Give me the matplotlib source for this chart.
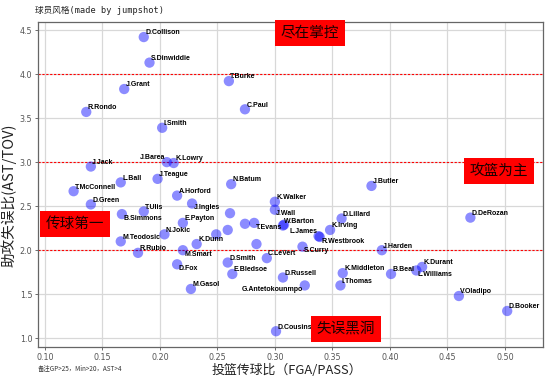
import matplotlib
matplotlib.use("Agg")
import matplotlib.pyplot as plt

# player name, FGA/PASS, AST/TOV
names = ["D.Collison", "S.Dinwiddie", "J.Grant", "R.Rondo", "I.Smith", "T.Burke", "C.Paul",
         "J.Jack", "J.Barea", "K.Lowry", "L.Ball", "J.Teague", "N.Batum", "T.McConnell",
         "D.Green", "A.Horford", "J.Ingles", "T.Ulis", "B.Simmons", "E.Payton", "N.Jokic",
         "M.Teodosic", "R.Rubio", "M.Smart", "K.Dunn", "D.Fox", "M.Gasol", "D.Smith",
         "E.Bledsoe", "T.Evans", "K.Walker", "J.Wall", "W.Barton", "L.James", "R.Westbrook",
         "D.Lillard", "K.Irving", "S.Curry", "C.LeVert", "J.Butler", "J.Harden", "D.DeRozan",
         "K.Middleton", "B.Beal", "K.Durant", "L.Williams", "I.Thomas", "D.Russell",
         "G.Antetokounmpo", "V.Oladipo", "D.Booker", "D.Cousins"]
fga_pass = [0.186, 0.191, 0.169, 0.136, 0.202, 0.260, 0.274,
            0.140, 0.206, 0.212, 0.166, 0.198, 0.262, 0.125,
            0.140, 0.215, 0.228, 0.186, 0.167, 0.220, 0.204,
            0.166, 0.181, 0.220, 0.232, 0.215, 0.227, 0.259,
            0.263, 0.282, 0.300, 0.300, 0.307, 0.338, 0.339,
            0.358, 0.348, 0.324, 0.293, 0.384, 0.393, 0.470,
            0.359, 0.401, 0.428, 0.423, 0.357, 0.307,
            0.326, 0.460, 0.502, 0.301]
ast_tov = [4.42, 4.13, 3.83, 3.57, 3.39, 3.92, 3.60,
           2.95, 3.00, 2.99, 2.77, 2.81, 2.75, 2.67,
           2.52, 2.62, 2.53, 2.44, 2.41, 2.31, 2.18,
           2.10, 1.97, 2.00, 2.07, 1.84, 1.56, 1.86,
           1.73, 2.31, 2.55, 2.46, 2.28, 2.16, 2.15,
           2.36, 2.23, 2.04, 1.91, 2.73, 2.00, 2.37,
           1.74, 1.73, 1.81, 1.77, 1.60, 1.69,
           1.60, 1.48, 1.31, 1.08]
# where each name sits relative to its dot
label_side = ["ur", "ur", "ur", "ur", "ur", "ur", "ur",
              "ur", "ul", "ur", "ur", "ur", "ur", "ur",
              "ur", "ur", "lr", "ur", "lr", "ur", "ur",
              "ur", "ur", "lr", "ur", "lr", "ur", "ur",
              "ur", "lr", "ur", "lr", "ur", "ul", "lr",
              "ur", "ur", "lr", "ur", "ur", "ur", "ur",
              "ur", "ur", "ur", "lr", "ur", "ur",
              "ll", "ur", "ur", "ur"]

# dots drawn without a name
other_x = [0.249, 0.261, 0.259, 0.274, 0.284, 0.308]
other_y = [2.18, 2.42, 2.23, 2.30, 2.07, 2.29]

# quadrant tags
zone_text = ["尽在掌控", "攻篮为主", "传球第一", "失误黑洞"]
zone_x = [0.305, 0.4696, 0.1009, 0.3365]
zone_y = [4.466, 2.898, 2.30, 1.108]

ref_lines = [2.0, 3.0, 4.0]

cjk = ["Noto Sans CJK SC", "DejaVu Sans"]

fig = plt.figure(figsize=(5.5, 3.81), dpi=100)
ax = fig.add_axes([0.069, 0.089, 0.918, 0.853])

ax.scatter(fga_pass, ast_tov, s=55, color="blue", alpha=0.45, edgecolors="none", zorder=3)
ax.scatter(other_x, other_y, s=55, color="blue", alpha=0.45, edgecolors="none", zorder=3)

offsets = {"ur": ((1, 0.5), "left", "bottom"),
           "lr": ((1, -0.5), "left", "top"),
           "ul": ((-1, 0.5), "right", "bottom"),
           "ll": ((-1, -0.5), "right", "top")}
for n, x, y, side in zip(names, fga_pass, ast_tov, label_side):
    off, ha, va = offsets[side]
    ax.annotate(n, (x, y), xytext=off, textcoords="offset points", ha=ha, va=va,
                fontsize=5.0, fontweight="bold", family="Liberation Sans", color="black",
                zorder=4)

for h in ref_lines:
    ax.axhline(h, color="red", linestyle=(0, (2, 1.5)), linewidth=0.8, zorder=2)

for t, x, y in zip(zone_text, zone_x, zone_y):
    ax.text(x, y, t, ha="left", va="center", fontsize=10.5, family=cjk, color="#1a0000",
            bbox=dict(facecolor="red", edgecolor="none", boxstyle="square,pad=0.4"), zorder=5)

ax.set_xlim(0.094, 0.533)
ax.set_ylim(0.90, 4.59)
ax.set_xticks([0.10, 0.15, 0.20, 0.25, 0.30, 0.35, 0.40, 0.45, 0.50])
ax.set_yticks([1.0, 1.5, 2.0, 2.5, 3.0, 3.5, 4.0, 4.5])
ax.tick_params(labelsize=5.8, colors="#555555", length=2.5, width=0.6, pad=1.5)
ax.grid(True, color="#d8d8d8", linewidth=0.9, zorder=0)
ax.set_axisbelow(True)
for sp in ax.spines.values():
    sp.set_color("#666666")
    sp.set_linewidth(0.9)

ax.set_xlabel("投篮传球比（FGA/PASS）", fontsize=9.3, family=cjk, color="#222222")
ax.xaxis.set_label_coords(0.492, -0.052)
ax.set_ylabel("助攻失误比(AST/TOV)", fontsize=10.5, family=cjk, color="#222222")
ax.yaxis.set_label_coords(-0.042, 0.468)

fig.text(0.064, 0.973, "球员风格(made by jumpshot)", fontsize=6.2,
         family=["DejaVu Sans Mono", "Noto Sans CJK SC"], color="#222222", va="center")
fig.text(0.069, 0.032, "备注GP>25，Min>20，AST>4", fontsize=4.6, family=cjk,
         color="#333333", va="center")

fig.savefig("out.png", dpi=100)
